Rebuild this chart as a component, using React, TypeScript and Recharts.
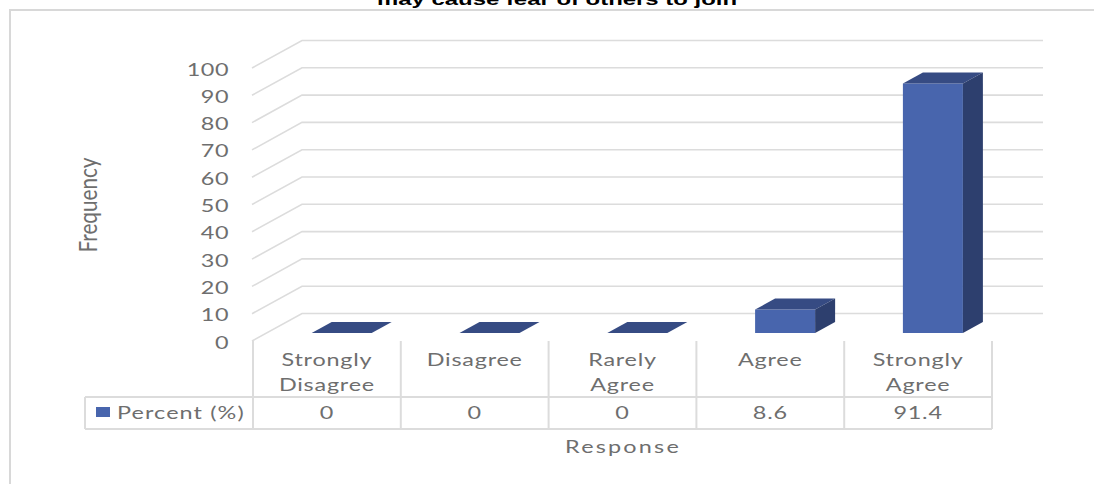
import React from "react";
import { Bar, CartesianGrid, ComposedChart, XAxis, YAxis } from "recharts";

const categories = ["Strongly Disagree", "Disagree", "Rarely Agree", "Agree", "Strongly Agree"];
const categoryLines = [["Strongly", "Disagree"], ["Disagree"], ["Rarely", "Agree"], ["Agree"], ["Strongly", "Agree"]];
const percentValues = [0, 0, 0, 8.6, 91.4];
const percentLabels = ["0", "0", "0", "8.6", "91.4"];
const yTicks = [0, 10, 20, 30, 40, 50, 60, 70, 80, 90, 100];
const seriesName = "Percent (%)";
const titleText = "may cause fear of others to join";
const xTitle = "Response";
const yTitle = "Frequency";

const rows = categories.map((category, i) => ({ category, percent: percentValues[i] }));

const TEXT = "#6e6e6e";
const LINE = "#dcdcdc";
const FRONT = "#4865ad";
const TOP = "#364b83";
const SIDE = "#2d3f6e";
const FONT = "Lato, sans-serif";

// Labels are set in a wide face: horizontal stretch about the anchor point.
function Wide({ x, y, anchor = "middle", size = 18, spacing = 0.6, children }: any) {
  return (
    <text
      transform={`translate(${x} ${y}) scale(1.3 1)`}
      textAnchor={anchor}
      fontFamily={FONT}
      fontSize={size}
      letterSpacing={spacing}
      fill={TEXT}
    >
      {children}
    </text>
  );
}

// Floor and wall of the 3D plot: front edge, slant to the back wall, then along it.
function gridLine(props: any) {
  const { x1, y1, key } = props;
  const depthX = 49;
  const depthY = -27.5;
  const d = `M${x1 - 1} ${y1}L${x1 + depthX} ${y1 + depthY}L${x1 + 790} ${y1 + depthY}`;
  return <path key={key ?? y1} d={d} fill="none" stroke={LINE} strokeWidth={1.6} />;
}

function YTick({ y, payload }: any) {
  return (
    <Wide x={229} y={y + 7.5} anchor="end" spacing={0.4}>
      {payload.value}
    </Wide>
  );
}

// Each category tick also draws its column of the data table below the plot.
function TableTick({ x, index }: any) {
  const band = 147.8;
  const left = x - band / 2;
  const lines = categoryLines[index];
  return (
    <g>
      <line x1={left} x2={left} y1={341} y2={429} stroke={LINE} strokeWidth={2} />
      {index === categories.length - 1 && (
        <line x1={left + band} x2={left + band} y1={341} y2={429} stroke={LINE} strokeWidth={2} />
      )}
      {lines.map((line: string, i: number) => (
        <Wide key={line} x={x} y={366 + i * 25}>
          {line}
        </Wide>
      ))}
      <Wide x={x} y={419}>
        {percentLabels[index]}
      </Wide>
    </g>
  );
}

// Extruded column: front face, top and right side, standing mid-way into the floor.
function Box3D({ x, y, width, height }: any) {
  const sx = 14.7;
  const sy = -8;
  const dx = 20;
  const dy = -11;
  const l = x + sx;
  const r = l + width;
  const t = y + sy;
  const b = t + height;
  return (
    <g>
      <rect x={l} y={t} width={width} height={height} fill={FRONT} />
      <path d={`M${l} ${t}L${l + dx} ${t + dy}L${r + dx} ${t + dy}L${r} ${t}Z`} fill={TOP} />
      <path d={`M${r} ${t}L${r + dx} ${t + dy}L${r + dx} ${b + dy}L${r} ${b}Z`} fill={SIDE} />
    </g>
  );
}

export default function App() {
  return (
    <div style={{ position: "absolute", left: 0, top: 0, width: 1094, height: 484, overflow: "hidden" }}>
      <ComposedChart
        width={1094}
        height={484}
        data={rows}
        margin={{ top: 68, right: 102, bottom: 0, left: 193 }}
        barSize={60}
      >
        <CartesianGrid vertical={false} horizontal={gridLine} />
        <YAxis
          type="number"
          domain={[0, 100]}
          ticks={yTicks}
          interval={0}
          width={60}
          axisLine={false}
          tickLine={false}
          tick={<YTick />}
        />
        <XAxis
          dataKey="category"
          interval={0}
          height={143}
          axisLine={false}
          tickLine={false}
          tick={<TableTick />}
        />
        <Bar dataKey="percent" name={seriesName} shape={<Box3D />} isAnimationActive={false} />

        {/* Outer frame and the title line above it */}
        <path d="M1094 10H10V484" fill="none" stroke="#d8d8d8" strokeWidth={2} />
        <text
          x={557}
          y={5}
          textAnchor="middle"
          fontFamily="'Liberation Sans', Arial, sans-serif"
          fontWeight="bold"
          fontSize={17}
          fill="#000"
          textLength={360}
          lengthAdjust="spacingAndGlyphs"
        >
          {titleText}
        </text>

        {/* Left and lower rules of the data table with its legend key */}
        <path d="M85 397H992M85 429H992M85 397V429" fill="none" stroke={LINE} strokeWidth={2} />
        <rect x={96} y={407} width={14} height={10} fill={FRONT} />
        <Wide x={117} y={419} anchor="start" spacing={0.85}>
          {seriesName}
        </Wide>

        <Wide x={623} y={453} spacing={1.7}>
          {xTitle}
        </Wide>
        <text
          transform="translate(97 205) scale(1.25 1) rotate(-90)"
          textAnchor="middle"
          fontFamily={FONT}
          fontSize={20}
          fill={TEXT}
          textLength={95}
          lengthAdjust="spacingAndGlyphs"
        >
          {yTitle}
        </text>
      </ComposedChart>
    </div>
  );
}
